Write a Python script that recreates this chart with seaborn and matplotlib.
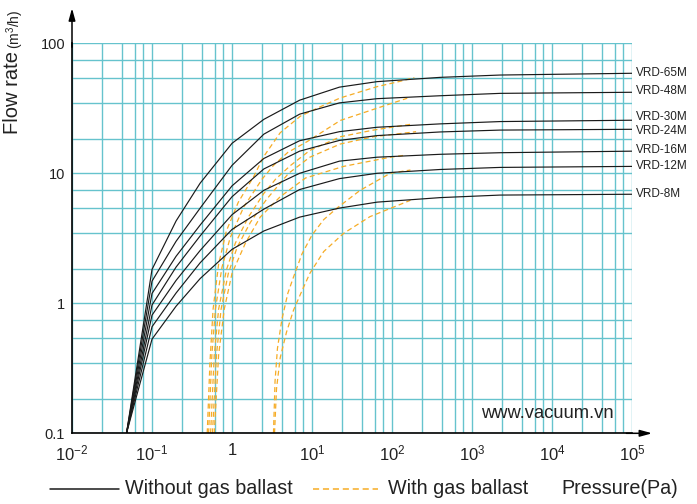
import numpy as np
import pandas as pd
import matplotlib.pyplot as plt
import seaborn as sns
from matplotlib.ticker import FixedLocator, NullFormatter
from matplotlib.lines import Line2D

# ---- data (pressure in Pa, flow rate in m3/h) ----
models = ["VRD-65M", "VRD-48M", "VRD-30M", "VRD-24M", "VRD-16M", "VRD-12M", "VRD-8M"]

# without gas ballast: all curves share the same pressure points
p_dry = [0.048, 0.1, 0.2, 0.4, 1, 2.5, 7, 22, 65, 400, 2250, 1e5]
q_65 = [0.1, 1.82, 4.3, 8.4, 17, 26, 36.5, 46, 50.7, 54.7, 57, 58.8]
q_48 = [0.1, 1.48, 3.0, 5.4, 11.5, 20, 28.5, 34.8, 37.5, 39.5, 41.2, 42.0]
q_30 = [0.1, 1.19, 2.3, 4.0, 8.0, 13.0, 17.8, 20.9, 22.6, 24.0, 25.0, 25.6]
q_24 = [0.1, 0.97, 1.9, 3.3, 6.6, 10.8, 14.8, 17.9, 19.5, 20.8, 21.5, 21.8]
q_16 = [0.1, 0.81, 1.5, 2.55, 4.8, 7.4, 10.0, 12.4, 13.3, 14.0, 14.4, 14.8]
q_12 = [0.1, 0.66, 1.2, 2.05, 3.7, 5.3, 7.5, 9.1, 10.0, 10.7, 11.1, 11.3]
q_8 = [0.1, 0.53, 0.95, 1.55, 2.6, 3.6, 4.6, 5.4, 6.0, 6.5, 6.8, 6.9]

# with gas ballast: each curve has its own pressure points
pb_65 = [0.49, 0.53, 0.58, 0.68, 0.85, 1.2, 1.86, 2.48, 4.0, 7.15, 12.7, 22.6, 65, 126, 190]
qb_65 = [0.1, 0.35, 0.9, 2.0, 3.6, 6.0, 9.4, 13.4, 20.5, 27.5, 32.5, 38, 46.4, 51.0, 54.5]
pb_48 = [0.51, 0.56, 0.62, 0.75, 0.95, 1.4, 2.37, 3.3, 5.0, 8.66, 22.6, 58.5, 155]
qb_48 = [0.1, 0.4, 0.9, 1.9, 3.2, 5.5, 9.0, 11.5, 14.5, 17.5, 25.5, 31, 37.8]
pb_30 = [0.54, 0.6, 0.68, 0.85, 1.1, 1.6, 2.5, 3.5, 5.4, 9.4, 22.6, 58.5, 170]
qb_30 = [0.1, 0.4, 0.9, 1.8, 2.9, 4.6, 7.0, 9.0, 11.5, 15.0, 19.1, 21.5, 23.8]
pb_24 = [0.57, 0.64, 0.73, 0.9, 1.16, 1.7, 2.7, 5.1, 9.4, 22.6, 58.5, 200]
qb_24 = [0.1, 0.4, 0.9, 1.7, 2.7, 4.2, 6.3, 10.0, 13.3, 16.8, 19.1, 20.9]
pb_16 = [0.6, 0.68, 0.8, 1.0, 1.47, 2.25, 4.0, 8.3, 24.8, 95, 150]
qb_16 = [0.1, 0.4, 0.9, 1.7, 2.9, 4.6, 6.6, 9.2, 11.3, 13.3, 13.8]
pb_12 = [3.3, 3.45, 3.7, 4.2, 5.0, 5.89, 7.5, 10, 14, 20.5, 40, 95, 170]
qb_12 = [0.1, 0.25, 0.45, 0.75, 1.2, 1.6, 2.4, 3.35, 4.4, 5.4, 7.4, 10.0, 10.6]
pb_8 = [3.4, 3.6, 4.0, 4.8, 5.89, 7.5, 9.4, 14, 24.8, 53, 170]
qb_8 = [0.1, 0.22, 0.38, 0.6, 0.89, 1.25, 1.7, 2.5, 3.45, 4.64, 6.2]

x_ticks = [1e-2, 1e-1, 1, 1e1, 1e2, 1e3, 1e4, 1e5]
x_labels = [r"$\mathregular{10^{-2}}$", r"$\mathregular{10^{-1}}$", "1",
            r"$\mathregular{10^{1}}$", r"$\mathregular{10^{2}}$", r"$\mathregular{10^{3}}$",
            r"$\mathregular{10^{4}}$", r"$\mathregular{10^{5}}$"]
y_ticks = [0.1, 1, 10, 100]
y_labels = ["0.1", "1", "10", "100"]
# odd grid divisions used on the original chart
x_grid_mult = [2.4, 4.2, 6.05, 7.8]
y_grid_mult = [1.85, 3.45, 5.45, 7.4]

dry = pd.DataFrame({"P": p_dry * 7,
                    "Q": q_65 + q_48 + q_30 + q_24 + q_16 + q_12 + q_8,
                    "model": np.repeat(models, len(p_dry))})
ballast_p = [pb_65, pb_48, pb_30, pb_24, pb_16, pb_12, pb_8]
ballast_q = [qb_65, qb_48, qb_30, qb_24, qb_16, qb_12, qb_8]
wet = pd.concat([pd.DataFrame({"P": p, "Q": q, "model": m})
                 for m, p, q in zip(models, ballast_p, ballast_q)])

# ---- style ----
sns.set_style("white")
plt.rcParams["font.family"] = ["Liberation Sans", "DejaVu Sans"]
plt.rcParams["mathtext.fontset"] = "custom"
plt.rcParams["mathtext.rm"] = "Liberation Sans"
grid_col = "#66C3CD"
black = "#1a1a1a"
orange = "#F6AC25"
txt = "#222222"

fig = plt.figure(figsize=(6.97, 5.04), dpi=100)
ax = fig.add_axes([72 / 697, 70.7 / 504, 560 / 697, 390 / 504])
ax.set_xscale("log")
ax.set_yscale("log")

for m in models:
    sns.lineplot(data=wet[wet["model"] == m], x="P", y="Q", ax=ax, color=orange,
                 lw=0.9, linestyle=(0, (4, 2.6)), estimator=None, sort=False, zorder=3)
for m in models:
    sns.lineplot(data=dry[dry["model"] == m], x="P", y="Q", ax=ax, color=black,
                 lw=0.85, estimator=None, sort=False, zorder=4)

ax.set_xlim(1e-2, 1e5)
ax.set_ylim(0.1, 100)
ax.set_xlabel("")
ax.set_ylabel("")

ax.set_xticks(x_ticks)
ax.set_xticklabels(x_labels)
ax.set_yticks(y_ticks)
ax.set_yticklabels(y_labels)
ax.xaxis.set_minor_locator(FixedLocator([m * 10.0 ** k for k in range(-2, 5) for m in x_grid_mult]))
ax.yaxis.set_minor_locator(FixedLocator([m * 10.0 ** k for k in range(-1, 2) for m in y_grid_mult]))
ax.xaxis.set_minor_formatter(NullFormatter())
ax.yaxis.set_minor_formatter(NullFormatter())
ax.grid(which="both", color=grid_col, lw=1.0)
ax.set_axisbelow(True)

for s in ["top", "right"]:
    ax.spines[s].set_visible(False)
for s in ["left", "bottom"]:
    ax.spines[s].set_color("black")
    ax.spines[s].set_linewidth(1.2)
    ax.spines[s].set_zorder(5)

ax.tick_params(axis="x", which="major", length=2, width=1.5, color="black",
               pad=5, labelsize=12, labelcolor=txt)
ax.tick_params(axis="y", which="major", length=0, pad=5, labelsize=10.5, labelcolor=txt)
ax.tick_params(which="minor", length=0)

# axis arrows
arrow = dict(arrowstyle="-|>,head_length=0.8,head_width=0.22", color="black",
             lw=1.1, mutation_scale=9, shrinkA=0, shrinkB=0)
ax.annotate("", xy=(0, 1.09), xytext=(0, 0.99), xycoords="axes fraction",
            arrowprops=arrow, annotation_clip=False)
ax.annotate("", xy=(1.036, 0), xytext=(0.99, 0), xycoords="axes fraction",
            arrowprops=arrow, annotation_clip=False)

# curve names at the right end
label_dy = {"VRD-65M": 0, "VRD-48M": 1.2, "VRD-30M": 2.2, "VRD-24M": -1.2,
            "VRD-16M": 1.0, "VRD-12M": 0, "VRD-8M": 0}
for m in models:
    end = dry[dry["model"] == m].iloc[-1]
    ax.annotate(m, xy=(end["P"], end["Q"]), xytext=(3, label_dy[m]),
                textcoords="offset points", ha="left", va="center",
                fontsize=8.5, color=txt, annotation_clip=False)

# watermark
fig.text(547 / 697, 1 - 414 / 504, "www.vacuum.vn", ha="center", va="center",
         fontsize=13.2, color=txt)

# y label
fig.text(13 / 697, 1 - 93 / 504, "Flow rate", rotation=90, ha="center", va="center",
         fontsize=14.5, color=txt)
fig.text(15 / 697, 1 - 29 / 504, r"(m$^{3}$/h)", rotation=90, ha="center", va="center",
         fontsize=10, color=txt)

# bottom legend and x label
ly = 1 - 489 / 504
fig.add_artist(Line2D([50 / 697, 119 / 697], [ly, ly], color=black, lw=1.1))
fig.text(125 / 697, ly, "Without gas ballast", ha="left", va="center",
         fontsize=14.2, color=txt)
fig.add_artist(Line2D([313 / 697, 378 / 697], [ly, ly], color=orange, lw=1.1,
                      linestyle=(0, (4, 2.5))))
fig.text(388 / 697, ly, "With gas ballast", ha="left", va="center",
         fontsize=14.2, color=txt)
fig.text(561 / 697, ly, "Pressure(Pa)", ha="left", va="center",
         fontsize=14.2, color=txt)

fig.savefig("out.png", dpi=100)
